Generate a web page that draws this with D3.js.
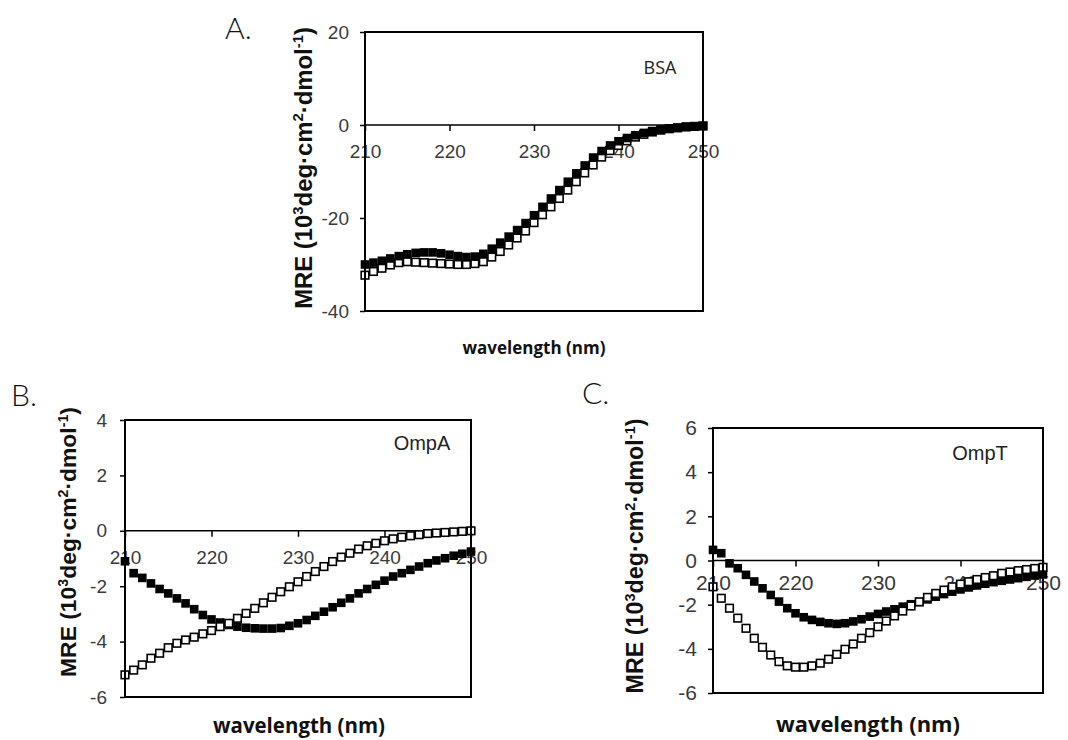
<!DOCTYPE html>
<html><head><meta charset="utf-8">
<script src="https://cdn.jsdelivr.net/npm/d3@7"></script>
<style>body{margin:0;background:#fff;} svg{display:block;background:#fff}</style>
</head><body>
<svg id="chart" width="1068" height="740"></svg>
<script>
// ---------------- DATA ----------------
const wavelengths = [210,211,212,213,214,215,216,217,218,219,220,221,222,223,224,225,226,227,228,229,230,
                     231,232,233,234,235,236,237,238,239,240,241,242,243,244,245,246,247,248,249,250];
const xTicks = [210,220,230,240,250];

// Panel A: BSA
const bsaFilled = [-30.0,-29.6,-29.2,-28.7,-28.2,-27.8,-27.5,-27.4,-27.4,-27.6,-27.9,-28.2,-28.4,-28.3,-27.7,-26.6,-25.3,-24.0,-22.6,-21.1,-19.4,
                   -17.6,-15.8,-14.0,-12.2,-10.4,-8.7,-7.0,-5.6,-4.4,-3.5,-2.8,-2.2,-1.7,-1.3,-1.0,-0.8,-0.6,-0.4,-0.3,-0.2];
const bsaOpen   = [-32.3,-31.5,-30.8,-30.1,-29.6,-29.4,-29.5,-29.6,-29.7,-29.8,-29.9,-30.0,-30.0,-29.8,-29.4,-28.4,-27.2,-25.8,-24.3,-22.8,-21.0,
                   -19.3,-17.6,-15.8,-14.0,-12.2,-10.3,-8.6,-6.9,-5.5,-4.4,-3.4,-2.6,-2.0,-1.5,-1.1,-0.8,-0.6,-0.4,-0.3,-0.2];
const yTicksA = [-40,-20,0,20];

// Panel B: OmpA
const ompAFilled = [-1.10,-1.53,-1.70,-1.90,-2.10,-2.26,-2.44,-2.62,-2.83,-3.04,-3.20,-3.31,-3.40,-3.46,-3.50,-3.52,-3.53,-3.53,-3.51,-3.43,-3.34,
                    -3.22,-3.07,-2.92,-2.76,-2.60,-2.44,-2.26,-2.10,-1.95,-1.80,-1.65,-1.53,-1.41,-1.29,-1.17,-1.07,-0.99,-0.90,-0.83,-0.75];
const ompAOpen   = [-5.20,-5.03,-4.84,-4.60,-4.42,-4.22,-4.06,-3.94,-3.84,-3.72,-3.60,-3.46,-3.34,-3.16,-2.98,-2.80,-2.60,-2.40,-2.20,-2.02,-1.84,
                    -1.65,-1.47,-1.29,-1.11,-0.95,-0.81,-0.66,-0.54,-0.45,-0.36,-0.29,-0.23,-0.18,-0.14,-0.10,-0.08,-0.06,-0.04,-0.02,0.00];
const yTicksB = [-6,-4,-2,0,2,4];

// Panel C: OmpT
const ompTFilled = [0.48,0.33,-0.13,-0.35,-0.65,-0.95,-1.26,-1.56,-1.86,-2.16,-2.39,-2.57,-2.69,-2.78,-2.84,-2.87,-2.84,-2.76,-2.66,-2.54,-2.42,
                    -2.31,-2.21,-2.09,-1.98,-1.88,-1.76,-1.64,-1.52,-1.41,-1.31,-1.22,-1.13,-1.05,-0.98,-0.92,-0.86,-0.80,-0.74,-0.68,-0.63];
const ompTOpen   = [-1.19,-1.71,-2.16,-2.61,-3.07,-3.52,-3.93,-4.28,-4.58,-4.77,-4.83,-4.83,-4.77,-4.65,-4.47,-4.25,-4.02,-3.78,-3.52,-3.27,-3.00,
                    -2.74,-2.51,-2.29,-2.06,-1.87,-1.67,-1.49,-1.34,-1.19,-1.07,-0.96,-0.86,-0.77,-0.69,-0.58,-0.52,-0.46,-0.41,-0.36,-0.31];
const yTicksC = [-6,-4,-2,0,2,4,6];

const panelNames = ["BSA","OmpA","OmpT"];
const panelLetters = ["A.","B.","C."];
const xLabelText = "wavelength (nm)";
const yLabelParts = [{t:"MRE (10"},{t:"3",sup:true},{t:"deg·cm"},{t:"2",sup:true},{t:"·dmol"},{t:"-1",sup:true},{t:")"}];

// ---------------- LAYOUT ----------------
const panels = [
  {filled:bsaFilled, open:bsaOpen, yDomain:[-40,20], yTicks:yTicksA, name:panelNames[0], letter:panelLetters[0],
   box:{l:365,r:703,t:32,b:311}, tickFs:19, xPad:14, yPad:11,
   ylab:{x:303,cy:168,len:282}, xlab:{cx:534,cy:348,len:143},
   nameCfg:{x:660,y:74,fs:18,font:"'Open Sans', sans-serif"}, letterCfg:{x:225,y:39}, openOnTop:false},
  {filled:ompAFilled, open:ompAOpen, yDomain:[-6,4], yTicks:yTicksB, name:panelNames[1], letter:panelLetters[1],
   box:{l:125,r:471,t:420,b:697}, tickFs:19, xPad:14, yPad:13,
   ylab:{x:68,cy:542,len:270}, xlab:{cx:299,cy:726,len:172},
   nameCfg:{x:422,y:450,fs:20,font:"'Liberation Sans', Arial, sans-serif"}, letterCfg:{x:11,y:406}, openOnTop:true},
  {filled:ompTFilled, open:ompTOpen, yDomain:[-6,6], yTicks:yTicksC, name:panelNames[2], letter:panelLetters[2],
   box:{l:713,r:1043,t:428,b:693}, tickFs:21, xPad:9, yPad:11,
   ylab:{x:635,cy:556,len:275}, xlab:{cx:868,cy:724,len:184},
   nameCfg:{x:980,y:460,fs:20,font:"'Liberation Sans', Arial, sans-serif"}, letterCfg:{x:582,y:404}, openOnTop:true}
];

const svg = d3.select("#chart");
const tickFont = "'Liberation Sans', Arial, sans-serif";

function buildRich(textSel, parts, fs){
  textSel.selectAll("tspan").remove();
  let prevSup = false;
  parts.forEach(p => {
    const ts = textSel.append("tspan").text(p.t);
    if (p.sup){
      ts.attr("font-size", fs*0.62).attr("dy", -fs*0.38);
      prevSup = true;
    } else {
      ts.attr("font-size", fs);
      if (prevSup) ts.attr("dy", fs*0.38);
      prevSup = false;
    }
  });
}

panels.forEach(P => {
  const g = svg.append("g");
  const x = d3.scaleLinear().domain([210,250]).range([P.box.l, P.box.r]);
  const y = d3.scaleLinear().domain(P.yDomain).range([P.box.b, P.box.t]);

  // x axis along zero line
  const xa = g.append("g").attr("transform", `translate(0,${y(0)})`)
    .call(d3.axisBottom(x).tickValues(xTicks).tickSizeInner(6).tickSizeOuter(0).tickPadding(P.xPad).tickFormat(d => String(d)));
  xa.select(".domain").remove();
  xa.selectAll(".tick line").attr("stroke","#000").attr("stroke-width",1.5);
  xa.selectAll(".tick text").attr("font-family",tickFont).attr("font-size",P.tickFs).attr("fill","#3a3a3a");

  // y axis
  const ya = g.append("g").attr("transform", `translate(${P.box.l},0)`)
    .call(d3.axisLeft(y).tickValues(P.yTicks).tickSizeInner(5).tickSizeOuter(0).tickPadding(P.yPad).tickFormat(d => String(d)));
  ya.select(".domain").remove();
  ya.selectAll(".tick line").attr("stroke","#000").attr("stroke-width",1.5);
  ya.selectAll(".tick text").attr("font-family",tickFont).attr("font-size",P.tickFs).attr("fill","#3a3a3a");

  // zero line
  g.append("line").attr("x1",x(210)).attr("x2",x(250)).attr("y1",y(0)).attr("y2",y(0))
    .attr("stroke","#000").attr("stroke-width",1.6);

  // markers
  const sz = 8.6;
  const drawFilled = () => g.append("g").selectAll("rect").data(wavelengths.map((w,i)=>({w,v:P.filled[i]})))
    .join("rect").attr("x",d=>x(d.w)-sz/2).attr("y",d=>y(d.v)-sz/2).attr("width",sz).attr("height",sz).attr("fill","#000");
  const so = 7.6;
  const drawOpen = () => g.append("g").selectAll("rect").data(wavelengths.map((w,i)=>({w,v:P.open[i]})))
    .join("rect").attr("x",d=>x(d.w)-so/2).attr("y",d=>y(d.v)-so/2).attr("width",so).attr("height",so)
    .attr("fill","#fff").attr("stroke","#000").attr("stroke-width",1.6);
  if (P.openOnTop){ drawFilled(); drawOpen(); } else { drawOpen(); drawFilled(); }

  // frame
  g.append("rect").attr("x",P.box.l).attr("y",P.box.t).attr("width",P.box.r-P.box.l).attr("height",P.box.b-P.box.t)
    .attr("fill","none").attr("stroke","#000").attr("stroke-width",2);

  // panel name
  g.append("text").attr("x",P.nameCfg.x).attr("y",P.nameCfg.y).attr("text-anchor","middle")
    .attr("font-family",P.nameCfg.font).attr("font-size",P.nameCfg.fs).attr("fill","#222").text(P.name);

  // panel letter
  g.append("text").attr("x",P.letterCfg.x).attr("y",P.letterCfg.y)
    .attr("font-family","Lato, 'Liberation Sans', sans-serif").attr("font-weight",300)
    .attr("font-size",30).attr("fill","#111").text(P.letter);

  // y label (rotated, bold, with superscripts), sized to target length
  let fs = 18;
  const yl = g.append("text").attr("text-anchor","middle").attr("font-family","'Liberation Sans', Arial, sans-serif")
    .attr("font-weight","bold").attr("fill","#111");
  buildRich(yl, yLabelParts, fs);
  const len0 = yl.node().getComputedTextLength();
  fs = fs * P.ylab.len / len0;
  buildRich(yl, yLabelParts, fs);
  yl.attr("transform", `translate(${P.ylab.x + fs*0.36},${P.ylab.cy}) rotate(-90)`);

  // x label
  let xfs = 17;
  const xl = g.append("text").attr("text-anchor","middle").attr("font-family","'Open Sans', 'DejaVu Sans', sans-serif")
    .attr("font-weight","bold").attr("fill","#111").attr("font-size",xfs).text(xLabelText);
  const xl0 = xl.node().getComputedTextLength();
  xfs = xfs * P.xlab.len / xl0;
  xl.attr("font-size",xfs).attr("x",P.xlab.cx).attr("y",P.xlab.cy + xfs*0.36);
});
</script>
</body></html>
